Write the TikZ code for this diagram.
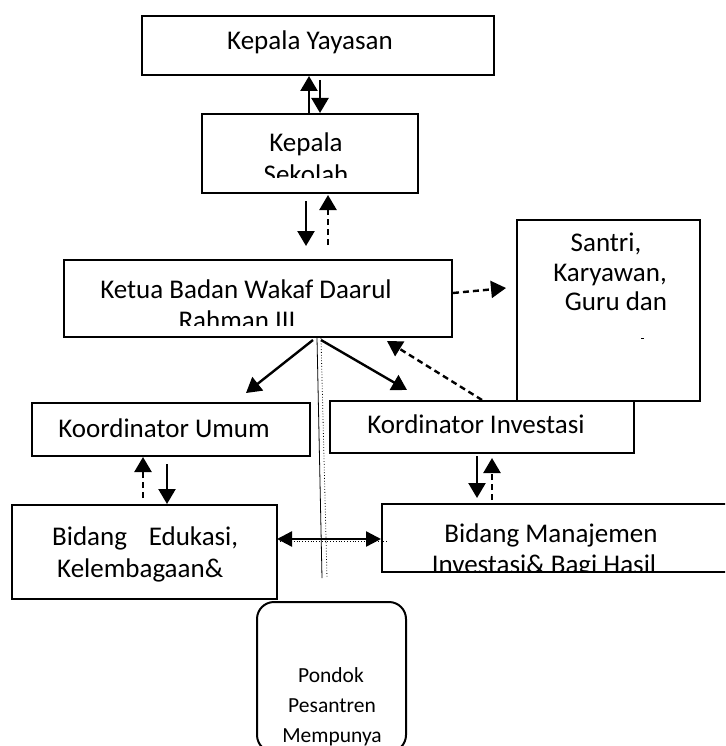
\documentclass[tikz,border=0pt]{standalone}
\usepackage{fontspec}
\setmainfont{Carlito}
\usetikzlibrary{arrows.meta}
\begin{document}
\begin{tikzpicture}[x=1pt,y=-1pt,
  box/.style={draw,line width=2pt,inner sep=0pt},
  lbl/.style={anchor=base,inner sep=0pt,font=\fontsize{27}{30}\selectfont},
  lblw/.style={anchor=base west,inner sep=0pt,font=\fontsize{27}{30}\selectfont},
  smalllbl/.style={anchor=base,inner sep=0pt,font=\fontsize{21.5}{30}\selectfont},
  arr/.style={line width=2.4pt,-{Triangle[length=15pt,width=17pt]}},
  darr/.style={arr,dash pattern=on 6pt off 4pt},
  dbl/.style={line width=2.4pt,{Triangle[length=15pt,width=15pt]}-{Triangle[length=15pt,width=15pt]}},
  thinline/.style={line width=0.8pt},
  dotline/.style={line width=0.8pt,dotted},
]
\useasboundingbox (0,0) rectangle (725,746);
\clip (0,0) rectangle (725,746);

% boxes
\node[box,minimum width=352pt,minimum height=59pt] (ky) at (318,45.5) {};
\node[box,minimum width=216pt,minimum height=79pt] (ks) at (310,153.5) {};
\node[box,minimum width=388pt,minimum height=77pt] (kb) at (258,298.5) {};
\node[box,minimum width=183pt,minimum height=181pt] (sa) at (608.5,310.5) {};
\node[box,minimum width=278pt,minimum height=53pt] (ku) at (171,429.5) {};
\node[box,minimum width=304pt,minimum height=52pt] (ki) at (482,427) {};
\node[box,minimum width=265pt,minimum height=94pt] (be) at (144.5,552) {};
\node[box,minimum width=346pt,minimum height=68pt] (bm) at (555,538) {};
\node[box,rounded corners=17pt,minimum width=149pt,minimum height=150pt] (pp) at (331.5,677) {};

% texts
\node[lbl] (tky) at (310,50) {Kepala Yayasan};
\node[lbl] (tks1) at (306,152) {Kepala};
\begin{scope}
\clip (202,114) rectangle (418,178);
\node[lbl] (tks2) at (306,183) {Sekolah};
\end{scope}
\node[lbl] (tkb1) at (246,298) {Ketua Badan Wakaf Daarul};
\begin{scope}
\clip (64,260) rectangle (452,325);
\node[lbl] (tkb2) at (237,329) {Rahman III};
\end{scope}
\node[lbl] (tsa1) at (606,251) {Santri,};
\node[lbl] (tsa2) at (610,281) {Karyawan,};
\node[lbl] (tsa3) at (616,310) {Guru dan};
\draw[line width=0.9pt] (641,338) -- (644,338);
\node[lbl] (tku) at (164,437) {Koordinator Umum};
\node[lbl] (tki) at (476,433) {Kordinator Investasi};
\node[lblw] (tbe1) at (52,545) {\hbox to 186pt{Bidang\hfil Edukasi,}};
\node[lblw] (tbe2) at (57,577) {Kelembagaan\&};
\node[lbl] (tbm1) at (551,542) {Bidang Manajemen};
\begin{scope}
\clip (382,504) rectangle (725,570);
\node[lbl] (tbm2) at (544,573) {Investasi\& Bagi Hasil};
\end{scope}
\node[smalllbl] (tpp1) at (331,682) {Pondok};
\node[smalllbl] (tpp2) at (332,712) {Pesantren};
\node[smalllbl] (tpp3) at (332,742) {Mempunya};

% x positions of vertical connectors
\coordinate (xa) at (309,0);
\coordinate (xb) at (320,0);
\coordinate (xc) at (306,0);
\coordinate (xd) at (328,0);
\coordinate (xe) at (143,0);
\coordinate (xf) at (167,0);
\coordinate (xg) at (477,0);
\coordinate (xh) at (492,0);
\coordinate (ya) at (0,246);
\coordinate (yb) at (0,245);
\coordinate (yc) at (0,498);
\coordinate (yd) at (0,500);

% Kepala Yayasan <-> Kepala Sekolah
\draw[arr] (xa |- ks.north) -- (xa |- ky.south);
\draw[arr] ([yshift=-4pt]xb |- ky.south) -- (xb |- ks.north);
% Kepala Sekolah <-> Ketua
\draw[arr] ([yshift=-7pt]xc |- ks.south) -- (xc |- ya);
\draw[darr] (xd |- yb) -- ([yshift=-1pt]xd |- ks.south);
% Ketua -> Santri
\coordinate (e1) at (453,293);
\coordinate (e2) at (506,288);
\draw[darr] (e1) -- (e2);
% Ketua -> coordinators
\coordinate (f0) at (313,340);
\coordinate (f1) at (246,393);
\coordinate (g0) at (321,340);
\coordinate (g1) at (407,390);
\draw[arr] (f0) -- (f1);
\draw[arr] (g0) -- (g1);
% from Santri/Investasi back to Ketua
\coordinate (h0) at (482,400);
\coordinate (h1) at (387,341);
\draw[darr] (h0) -- (h1);
% Koordinator Umum <-> Bidang Edukasi
\draw[darr] (xe |- yc) -- (xe |- ku.south);
\draw[arr] ([yshift=-7pt]xf |- ku.south) -- (xf |- be.north);
% Kordinator Investasi <-> Bidang Manajemen
\draw[arr] ([yshift=-2pt]xg |- ki.south) -- (xg |- yc);
\draw[darr] (xh |- yd) -- ([yshift=-4pt]xh |- ki.south);
% Bidang Edukasi <-> Bidang Manajemen
\coordinate (k0) at (277,539);
\draw[dbl] (k0) -- (k0 -| bm.west);
\coordinate (l0) at (277,541.5);
\coordinate (l1) at (388,541.5);
\draw[dotline] (l0) -- (l1);
% vertical lines from Ketua
\coordinate (m0) at (317,338);
\coordinate (m1) at (322,578);
\coordinate (n0) at (321,338);
\coordinate (n1) at (327,578);
\draw[thinline] (m0) -- (m1);
\draw[dotline] (n0) -- (n1);
\end{tikzpicture}
\end{document}
